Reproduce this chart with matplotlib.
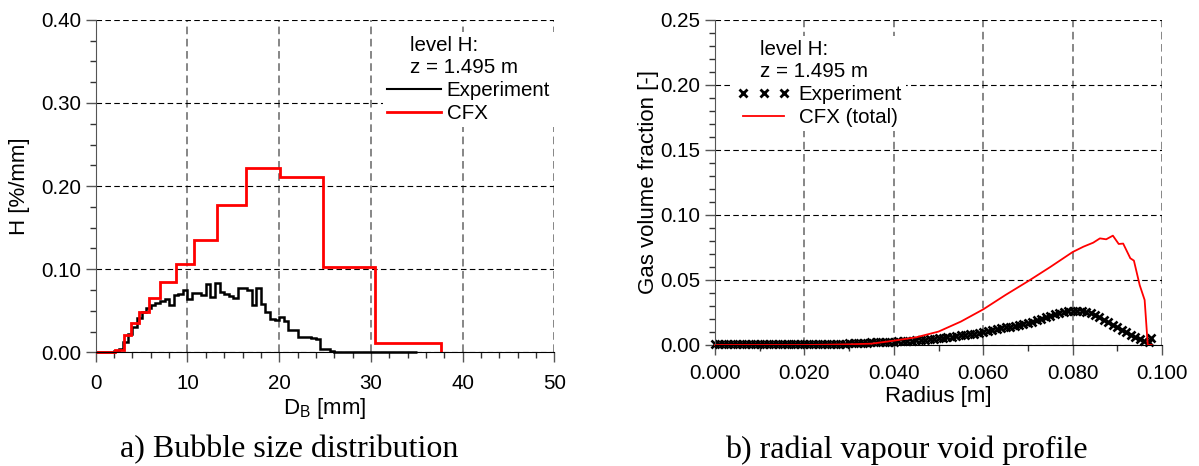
import numpy as np
import matplotlib
matplotlib.use("Agg")
import matplotlib.pyplot as plt
from matplotlib.lines import Line2D
from matplotlib.ticker import MultipleLocator, FormatStrFormatter

plt.rcParams['font.family'] = ['Liberation Sans', 'DejaVu Sans']
plt.rcParams['mathtext.default'] = 'regular'

# bubble size distribution, level H
exp_edges = np.arange(0.0, 35.01, 0.5)
exp_h = [0.0, 0.0, 0.0, 0.0, 0.002, 0.004, 0.012, 0.022, 0.031, 0.041,
         0.049, 0.053, 0.057, 0.060, 0.062, 0.064, 0.057, 0.069, 0.070, 0.075,
         0.064, 0.072, 0.072, 0.069, 0.082, 0.067, 0.083, 0.073, 0.070, 0.068,
         0.066, 0.077, 0.078, 0.075, 0.057, 0.078, 0.058, 0.049, 0.040, 0.039,
         0.043, 0.038, 0.027, 0.027, 0.019, 0.019, 0.019, 0.017, 0.016, 0.004,
         0.004, 0.002, 0.001, 0.0005, 0.0, 0.0, 0.0, 0.0, 0.0, 0.0,
         0.0, 0.0, 0.0, 0.0, 0.0, 0.0, 0.0, 0.0, 0.0, 0.0]
cfx_edges = [0.0, 2.05, 3.05, 3.8, 4.7, 5.75, 7.05, 8.75, 10.75, 13.25,
             16.35, 20.1, 24.75, 30.5, 37.6]
cfx_h = [0.0, 0.003, 0.021, 0.035, 0.049, 0.066, 0.085, 0.106, 0.135,
         0.177, 0.222, 0.211, 0.103, 0.011]

# radial gas volume fraction, level H
exp_r = list(np.round(np.arange(0.0, 0.0975, 0.001), 4)) + [0.0975]
exp_void = [0.0005, 0.0005, 0.0005, 0.0005, 0.0005, 0.0005, 0.0005, 0.0005, 0.0005, 0.0005,
            0.0005, 0.0005, 0.0005, 0.0005, 0.0005, 0.0005, 0.0005, 0.0005, 0.0005, 0.0005,
            0.0005, 0.0005, 0.0005, 0.0005, 0.0005, 0.0006, 0.0007, 0.0008, 0.0009, 0.0010,
            0.0012, 0.0013, 0.0015, 0.0016, 0.0018, 0.0020, 0.0020, 0.0021, 0.0022, 0.0023,
            0.0025, 0.0027, 0.0029, 0.0031, 0.0033, 0.0035, 0.0038, 0.0041, 0.0044, 0.0047,
            0.0050, 0.0054, 0.0058, 0.0063, 0.0068, 0.0073, 0.0078, 0.0083, 0.0088, 0.0094,
            0.0100, 0.0107, 0.0114, 0.0121, 0.0128, 0.0135, 0.0141, 0.0148, 0.0155, 0.0162,
            0.0170, 0.0180, 0.0190, 0.0201, 0.0212, 0.0222, 0.0235, 0.0245, 0.0253, 0.0258,
            0.0262, 0.0263, 0.0261, 0.0256, 0.0245, 0.0232, 0.0215, 0.0195, 0.0175, 0.0155,
            0.0135, 0.0116, 0.0098, 0.0080, 0.0062, 0.0045, 0.0030, 0.0022, 0.0050]
cfx_r = [0.0, 0.005, 0.01, 0.015, 0.02, 0.025, 0.03, 0.035, 0.04, 0.045,
         0.05, 0.055, 0.06, 0.065, 0.07, 0.075, 0.08, 0.0824, 0.0846, 0.0861,
         0.0875, 0.089, 0.0903, 0.0913, 0.0929, 0.0937, 0.095, 0.0961, 0.0968, 0.0977]
cfx_void = [0.0, 0.0, 0.0, 0.0, 0.0, 0.0002, 0.0005, 0.001, 0.0033, 0.0059,
            0.0103, 0.018, 0.0274, 0.0385, 0.049, 0.060, 0.0715, 0.0756, 0.0787, 0.082,
            0.0813, 0.0841, 0.0777, 0.078, 0.0667, 0.0649, 0.046, 0.0346, 0.0, 0.0]

FS = 14.8     # tick labels and legend
LFS = 16      # axis labels

fig = plt.figure(figsize=(11.99, 4.66), dpi=100)
ax1 = fig.add_axes([0.0799, 0.2436, 0.3824, 0.7141])
ax2 = fig.add_axes([0.5963, 0.2597, 0.3729, 0.6974])


def style(ax, xmaj, xmin, ymaj, ymin, xfmt, yfmt, xpad):
    ax.set_axisbelow(True)
    ax.spines['top'].set_visible(False)
    ax.spines['right'].set_visible(False)
    ax.spines['left'].set_color('#555555')
    ax.spines['bottom'].set_color('black')
    ax.xaxis.set_major_locator(MultipleLocator(xmaj))
    ax.xaxis.set_minor_locator(MultipleLocator(xmin))
    ax.yaxis.set_major_locator(MultipleLocator(ymaj))
    ax.yaxis.set_major_formatter(FormatStrFormatter(yfmt))
    ax.yaxis.set_minor_locator(MultipleLocator(ymin))
    ax.xaxis.set_major_formatter(FormatStrFormatter(xfmt))
    ax.tick_params(which='major', direction='out', length=7.5, width=1,
                   labelsize=FS, pad=3, colors='#555555', labelcolor='black')
    ax.tick_params(axis='x', which='major', pad=xpad)
    ax.tick_params(which='minor', direction='out', length=4, width=1,
                   colors='#333333')
    ax.grid(axis='x', which='major', color='#666666', lw=1.1, ls=(0, (5, 3)))
    ax.grid(axis='y', which='major', color='black', lw=0.8, ls=(0, (5, 3)))


# a) bubble size distribution
style(ax1, 10, 2, 0.1, 0.025, '%d', '%.2f', 8)
ax1.set_xlim(0, 50)
ax1.set_ylim(0, 0.40)
ax1.stairs(exp_h, exp_edges, baseline=0, color='black', lw=1.8, clip_on=False)
ax1.stairs(cfx_h, cfx_edges, baseline=0, color='red', lw=2.0, clip_on=False)
ax1.set_xlabel('D$_B$ [mm]', fontsize=LFS, labelpad=2)
ax1.set_ylabel('H [%/mm]', fontsize=LFS, labelpad=8)
ax1.legend(handles=[Line2D([], [], color='black', lw=1.5),
                    Line2D([], [], color='red', lw=2.0)],
           labels=['Experiment', 'CFX'],
           title='    level H:\n    z = 1.495 m', alignment='left',
           loc='upper right', bbox_to_anchor=(1.0, 0.963), borderaxespad=0,
           frameon=True, fancybox=False, edgecolor='none', facecolor='white',
           framealpha=1, fontsize=FS, title_fontsize=FS, handlelength=2.6,
           handletextpad=0.3, labelspacing=0.2, borderpad=0.2)

# b) radial vapour void profile
style(ax2, 0.02, 0.01, 0.05, 0.01, '%.3f', '%.2f', 6)
ax2.set_xlim(0, 0.1)
ax2.set_ylim(0, 0.25)
ax2.plot(exp_r, exp_void, ls='none', marker='x', color='black', ms=6,
         mew=1.9, clip_on=False)
ax2.plot(cfx_r, cfx_void, color='red', lw=1.3, clip_on=False)
ax2.set_xlabel('Radius [m]', fontsize=LFS, labelpad=2)
ax2.set_ylabel('Gas volume fraction [-]', fontsize=LFS, labelpad=1)
ax2.legend(handles=[Line2D([], [], ls='none', marker='x', color='black',
                           ms=6, mew=2.0),
                    Line2D([], [], color='red', lw=1.3)],
           labels=['Experiment', 'CFX (total)'], numpoints=3,
           title='    level H:\n    z = 1.495 m', alignment='left',
           loc='upper left', bbox_to_anchor=(0.04, 0.951), borderaxespad=0,
           frameon=True, fancybox=False, edgecolor='none', facecolor='white',
           framealpha=1, fontsize=FS, title_fontsize=FS, handlelength=2.6,
           handletextpad=0.4, labelspacing=0.2, borderpad=0.2)

fig.text(0.241, 0.0345, 'a) Bubble size distribution', family='Liberation Serif',
         fontsize=23, ha='center', va='center')
fig.text(0.7556, 0.0345, 'b) radial vapour void profile', family='Liberation Serif',
         fontsize=23, ha='center', va='center')

fig.savefig('out.png', dpi=100)
